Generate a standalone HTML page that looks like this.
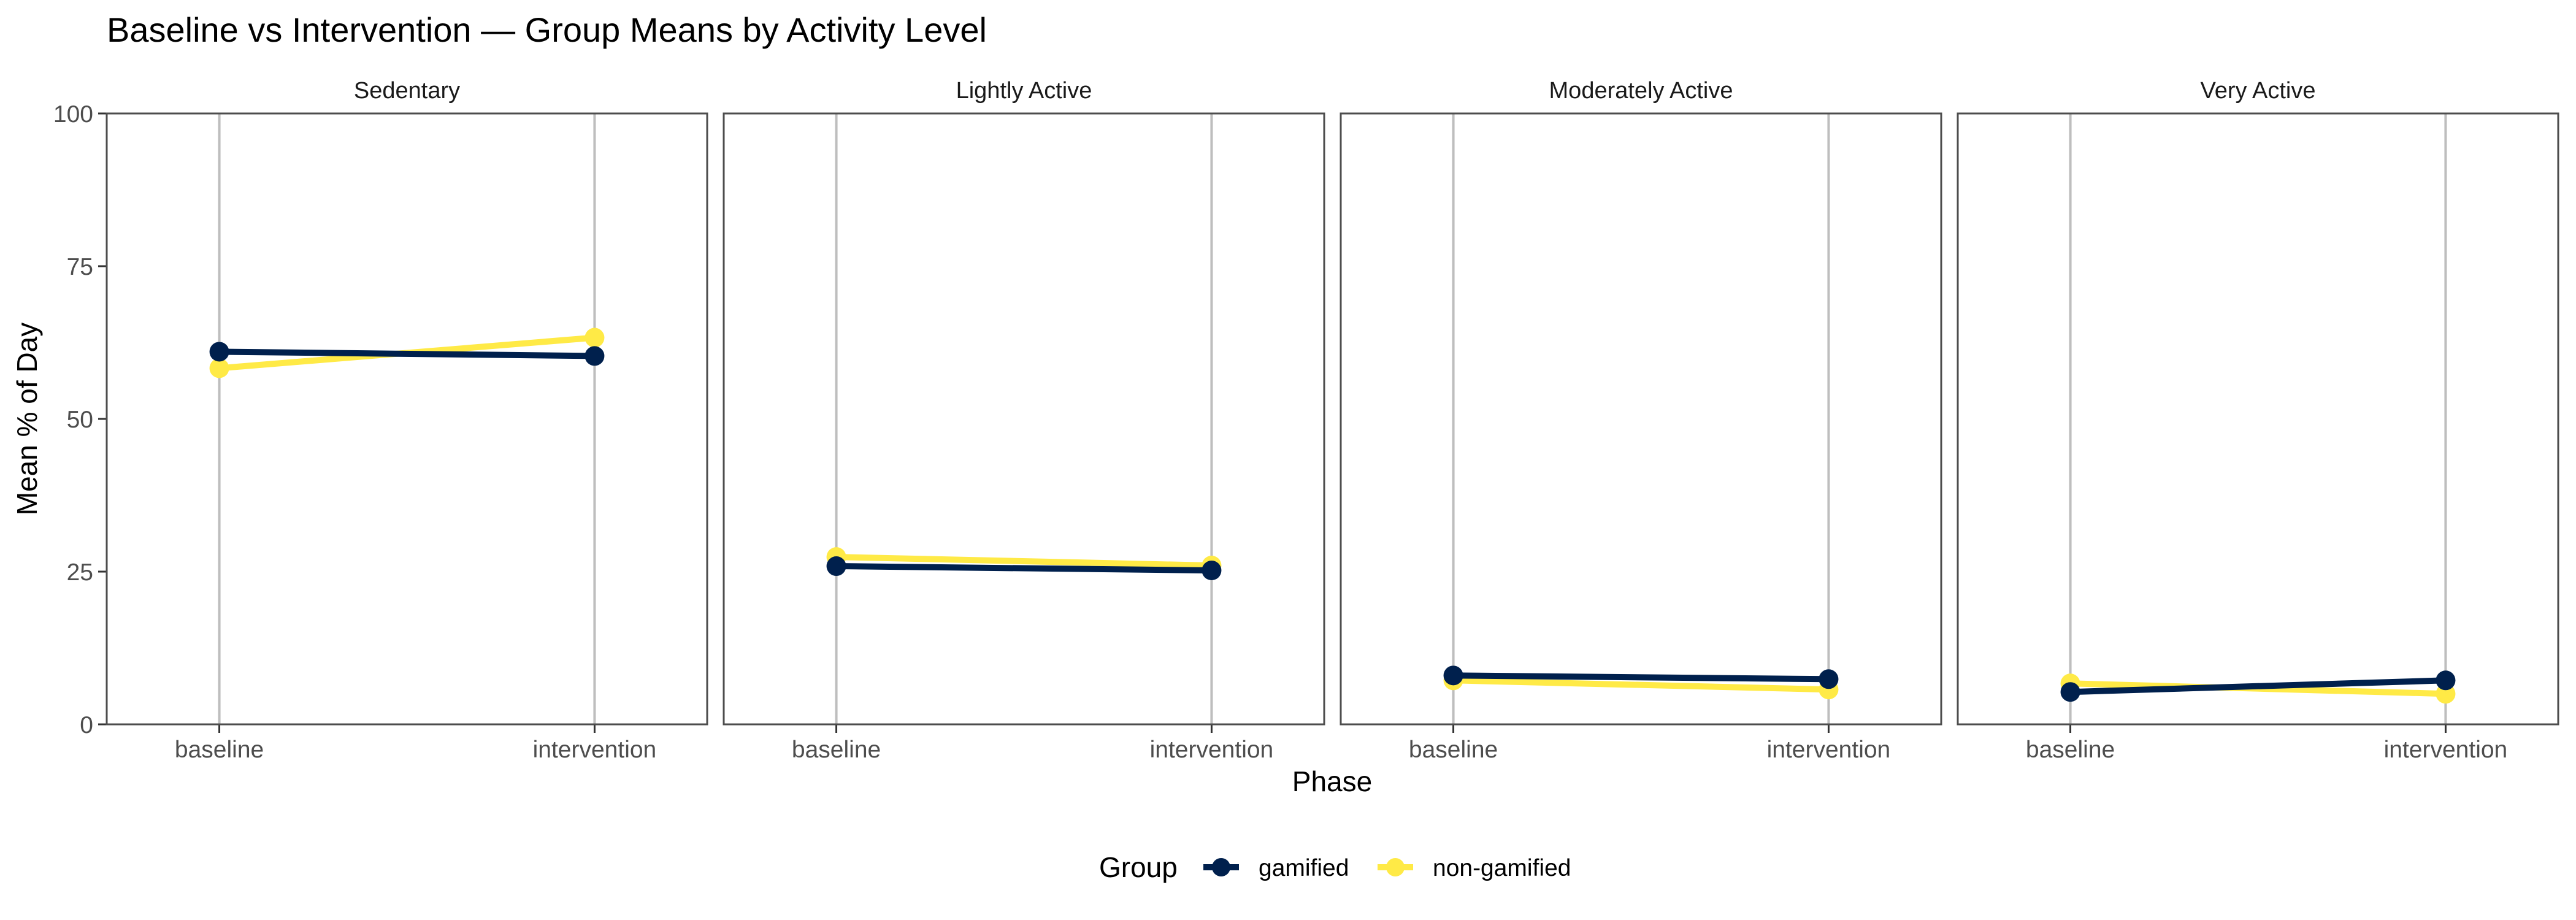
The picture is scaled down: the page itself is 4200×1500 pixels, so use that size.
<!DOCTYPE html>
<html><head><meta charset="utf-8"><style>
html,body{margin:0;padding:0;background:#fff;}
svg{display:block;font-family:"Liberation Sans",Arial,sans-serif;}
</style></head><body>
<svg id="chart" width="4200" height="1500" viewBox="0 0 4200 1500" xmlns="http://www.w3.org/2000/svg">
<text x="174" y="68" font-size="56" fill="#000">Baseline vs Intervention — Group Means by Activity Level</text>
<text transform="translate(60,683) rotate(-90)" text-anchor="middle" font-size="46" fill="#000">Mean % of Day</text>
<text x="2172" y="1290" text-anchor="middle" font-size="46" fill="#000">Phase</text>
<g id="panels"></g>
<g>
<text x="1792" y="1430" font-size="46" fill="#000">Group</text>
<g>
<line x1="1962" y1="1414" x2="2020" y2="1414" stroke="#00204D" stroke-width="10"/>
<circle cx="1991" cy="1414" r="15" fill="#00204D"/>
<text x="2052" y="1428" font-size="39" fill="#000">gamified</text>
</g>
<g>
<line x1="2246" y1="1414" x2="2304" y2="1414" stroke="#FFEA46" stroke-width="10"/>
<circle cx="2275" cy="1414" r="15" fill="#FFEA46"/>
<text x="2336" y="1428" font-size="39" fill="#000">non-gamified</text>
</g>
</g>
</svg>
<script>
const panelNames = ["Sedentary","Lightly Active","Moderately Active","Very Active"];
const phases = ["baseline","intervention"];
const yTicks = [0,25,50,75,100];
const gamified = [[61.0,60.3],[25.9,25.2],[8.0,7.4],[5.3,7.2]];
const nonGamified = [[58.3,63.3],[27.4,26.0],[7.2,5.7],[6.7,5.0]];

const NS="http://www.w3.org/2000/svg";
const PL=174, PW=979, STEP=1006, PT=185, PB=1181;
function yS(v){return PB-(v/100)*(PB-PT);}
function xS(p,i){const x0=PL+p*STEP;return x0+PW*((i+0.3)/1.6);}
function mk(tag,attrs,parent){const e=document.createElementNS(NS,tag);for(const k in attrs)e.setAttribute(k,attrs[k]);parent.appendChild(e);return e;}
const g=document.getElementById('panels');
yTicks.forEach(t=>{
  const tl=mk('line',{x1:160,x2:174,y1:yS(t),y2:yS(t),stroke:'#333','stroke-width':3},g);
  
  
  const tx=mk('text',{x:152,y:yS(t)+14,'text-anchor':'end','font-size':39,fill:'#4d4d4d'},g);
  tx.textContent=t;
  
  
});
panelNames.forEach((name,p)=>{
  const pg=mk('g',{},g);
  
  
  const x0=PL+p*STEP;
  const st=mk('text',{x:x0+PW/2,y:160,'text-anchor':'middle','font-size':38,fill:'#1a1a1a'},pg);
  st.textContent=name;
  
  
  phases.forEach((ph,i)=>{
    const gl=mk('line',{x1:xS(p,i),x2:xS(p,i),y1:PT,y2:PB,stroke:'#bebebe','stroke-width':4},pg);
    
    
    const tm=mk('line',{x1:xS(p,i),x2:xS(p,i),y1:PB,y2:PB+14,stroke:'#333','stroke-width':3},pg);
    
    
    const tl=mk('text',{x:xS(p,i),y:1235,'text-anchor':'middle','font-size':39,fill:'#4d4d4d'},pg);
    tl.textContent=ph;
    
    
  });
  [[nonGamified,'#FFEA46','non-gamified'],[gamified,'#00204D','gamified']].forEach(([arr,col,nm])=>{
    const ln=mk('line',{x1:xS(p,0),y1:yS(arr[p][0]),x2:xS(p,1),y2:yS(arr[p][1]),stroke:col,'stroke-width':10},pg);
    
    
    arr[p].forEach((v,i)=>{
      const c=mk('circle',{cx:xS(p,i),cy:yS(v),r:16,fill:col},pg);
      
      
    });
  });
  const b=mk('rect',{x:x0,y:PT,width:PW,height:PB-PT,fill:'none',stroke:'#4d4d4d','stroke-width':3},pg);
  
  
});
</script>
</body></html>
